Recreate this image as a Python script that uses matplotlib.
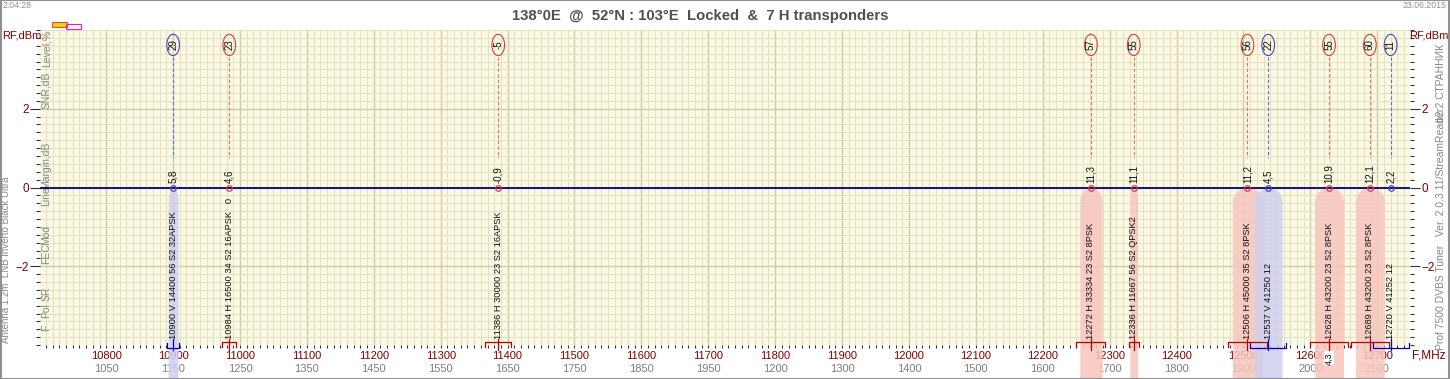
import matplotlib
matplotlib.use('Agg')
import matplotlib.pyplot as plt
import numpy as np
import matplotlib.transforms as mtransforms
from matplotlib.patches import Ellipse, Rectangle
from matplotlib.ticker import MultipleLocator, FixedLocator, FuncFormatter

# transponder list
freqs = [10900, 10984, 11386, 12272, 12336, 12506, 12537, 12628, 12689, 12720]
pols = ['V', 'H', 'H', 'H', 'H', 'H', 'V', 'H', 'H', 'V']
srates = [14400, 16500, 30000, 33334, 11667, 45000, 41250, 43200, 43200, 41252]
fecs = ['56', '34', '23', '23', '56', '35', '', '23', '23', '']
systems = ['S2', 'S2', 'S2', 'S2', 'S2', 'S2', '', 'S2', 'S2', '']
mods = ['32APSK', '16APSK', '16APSK', '8PSK', 'QPSK2', '8PSK', '', '8PSK', '8PSK', '']
tails = ['', '0', '', '', '', '', '12', '', '', '12']
levels = [29, 23, -5, 57, 55, 56, 22, 55, 60, 11]
margins = [5.8, 4.6, -0.9, 11.3, 11.1, 11.2, 4.5, 10.9, 12.1, 2.2]
locked = [True, False, False, True, True, True, True, True, True, False]

rf_ticks = list(range(10800, 12701, 100))
lnb_switch = 11700
lo_low, lo_high = 9750, 10600

title = '138°0E  @  52°N : 103°E  Locked  &  7 H transponders'

RED = '#800000'
GRAY = '#888888'
plt.rcParams['font.family'] = ['Liberation Sans', 'DejaVu Sans']

fig = plt.figure(figsize=(14.5, 3.79), dpi=100)
ax = fig.add_axes([40/1450, 1 - 345/379, 1370/1450, 315/379])
ax.set_facecolor('#FBF9E2')
ax.set_xlim(10701, 12749)
ax.set_ylim(-4, 4)
ax.xaxis.set_major_locator(FixedLocator(rf_ticks))
ax.xaxis.set_minor_locator(MultipleLocator(10))
ax.yaxis.set_major_locator(FixedLocator([-2, 0, 2]))
ax.yaxis.set_minor_locator(MultipleLocator(0.2))
ax.grid(which='minor', color='#E4E0C4', lw=0.7)
ax.grid(which='major', color='#CFCAAC', lw=1.0)
ax.set_axisbelow(True)
for s in ax.spines.values():
    s.set_visible(False)

ax.tick_params(axis='y', which='both', left=True, right=True, labelleft=True,
               labelright=True, direction='out', color='#333333',
               labelcolor=RED, labelsize=8.5, pad=1)
ax.tick_params(axis='y', which='major', length=7, width=0.8)
ax.tick_params(axis='y', which='minor', length=3, width=0.8)
ax.tick_params(axis='x', which='both', direction='out', length=2.5, width=0.8,
               color='#333333', labelcolor=RED, labelsize=8, pad=2)

# IF labels under the RF labels (LNB switches LO at 11700)
def if_label(f, pos):
    lo = lo_low if f <= lnb_switch else lo_high
    return '%d' % (f - lo)

sec = ax.secondary_xaxis(-0.052, functions=(lambda v: v, lambda v: v))
sec.xaxis.set_major_locator(FixedLocator(rf_ticks))
sec.xaxis.set_major_formatter(FuncFormatter(if_label))
sec.tick_params(axis='x', length=0, labelcolor='#808080', labelsize=8, pad=2)
sec.spines['bottom'].set_visible(False)

ax.axhline(0, color='#000080', lw=1.3, zorder=3)

for i, f in enumerate(freqs):
    h = pols[i] == 'H'
    edge = '#D84040' if h else '#4848C8'
    dash = '#E07070' if h else '#6868D8'
    sr = srates[i] / 1000.0

    # spectrum hump of the locked carriers
    if locked[i]:
        w = 0.5 * sr
        d = np.linspace(-w, w, 80)
        top = -0.35 * (1 - np.sqrt(1 - (d / w) ** 2))
        ax.fill_between(f + d, -7, top, color='#F7C6BE' if h else '#CFCFF0',
                        alpha=0.85, lw=0, zorder=1, clip_on=False)

    # level bubble
    ax.add_patch(Ellipse((f, 3.62), 19, 0.54, fc='none', ec=edge, lw=0.8, zorder=4))
    ax.text(f, 3.62, str(levels[i]), rotation=90, ha='center', va='center',
            fontsize=7, color='#111111', zorder=5)
    ax.plot([f, f], [3.32, 0.75], color=dash, lw=0.8, ls=(0, (3, 2)), zorder=3)

    # margin
    ax.text(f, 0.12, ('%.1f' % margins[i]).replace('.', ','), rotation=90,
            ha='center', va='bottom', fontsize=7, color='#111111', zorder=5)
    ax.plot(f, 0, 'o', ms=4, mfc='none', mec=edge, mew=0.9, zorder=5)

    # parameters
    parts = [str(f), pols[i], str(srates[i]), fecs[i], systems[i], mods[i]]
    info = ' '.join(p for p in parts if p)
    if tails[i]:
        info += ('   ' if mods[i] else ' ') + tails[i]
    ax.text(f, -3.86, info, rotation=90, ha='center', va='bottom', fontsize=6.7,
            color='#111111', zorder=5)

    # bandwidth bracket on the frequency axis
    bw = 0.65 * sr
    yb, ye = (-3.93, -4.06) if h else (-4.07, -3.94)
    bc = '#C00000' if h else '#0000C0'
    ax.plot([f - bw, f - bw, f + bw, f + bw], [ye, yb, yb, ye], color=bc, lw=0.9,
            clip_on=False, zorder=5)
    ax.plot([f, f], [-3.84, -4.12], color=bc, lw=0.9, clip_on=False, zorder=5)

# stray margin value left under the axis
ax.text(12628, -4.18, '4,3', rotation=90, ha='center', va='top', fontsize=6.5,
        color='#111111', zorder=6, clip_on=False,
        bbox=dict(fc='white', ec='none', pad=0.5))

# row captions on the left inside the plot
yx = mtransforms.blended_transform_factory(ax.transAxes, ax.transData)
captions = [('Level,%', 3.05), ('SNR,dB', 2.0), ('Margin,dB', -0.05), ('Line', -0.48),
            ('Mod', -1.45), ('FEC', -1.95), ('SR', -2.89), ('Pol', -3.32), ('F', -3.65)]
for txt, yv in captions:
    ax.text(0.0048, yv, txt, transform=yx, rotation=90, ha='center', va='bottom',
            fontsize=7.5, color=GRAY, zorder=2)

fig.text(700/1450, 1 - 16/379, title, ha='center', va='center', fontsize=10.7,
         fontweight='bold', color='#505050')
fig.text(3/1450, 1 - 5/379, '2:04:28', ha='left', va='center', fontsize=6.3, color='#909090')
fig.text(1447/1450, 1 - 5/379, '23.06.2015', ha='right', va='center', fontsize=6.3, color='#909090')
fig.text(2/1450, 1 - 36/379, 'RF,dBm', ha='left', va='center', fontsize=8, color=RED)
fig.text(1448/1450, 1 - 36/379, 'RF,dBm', ha='right', va='center', fontsize=8, color=RED)
fig.text(1412/1450, 1 - 356/379, 'F,MHz', ha='left', va='center', fontsize=8.5, color=RED)
fig.text(6/1450, 1 - 343/379, 'Antenna 1.2m  LNB Inverto Black Ultra', rotation=90,
         ha='center', va='bottom', fontsize=7, color=GRAY)
fig.text(1441/1450, 1 - 350/379, 'Prof 7500 DVBS Tuner   Ver. 2.0.3.11/StreamReader',
         rotation=90, ha='center', va='bottom', fontsize=7.5, color=GRAY)
fig.text(1441/1450, 1 - 44/379, 'b2.2 СТРАННИК', rotation=90, ha='center', va='top',
         fontsize=7.5, color=GRAY)

# lock indicators
fig.patches.append(Rectangle((52/1450, 1 - 27/379), 15/1450, 5/379, fc='#F0D020',
                             ec='#E05020', lw=0.8, transform=fig.transFigure, figure=fig))
fig.patches.append(Rectangle((66/1450, 1 - 29/379), 15/1450, 5/379, fc='none',
                             ec='#E020E0', lw=0.8, transform=fig.transFigure, figure=fig))
fig.patches.append(Rectangle((0.0005, 0.001), 0.999, 0.998, fc='none', ec='#909090',
                             lw=1.5, transform=fig.transFigure, figure=fig))

fig.savefig('out.png', dpi=100)
